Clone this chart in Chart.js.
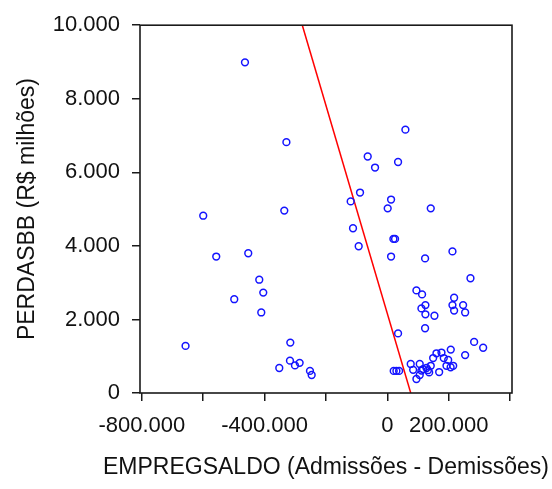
<!DOCTYPE html>
<html>
<head>
<meta charset="utf-8">
<script src="https://cdn.jsdelivr.net/npm/chart.js@4/dist/chart.umd.min.js"></script>
<style>
  html, body { margin: 0; padding: 0; background: #fff; }
  #wrap { width: 552px; height: 489px; }
</style>
</head>
<body>
<div id="wrap"><canvas id="c" width="552" height="489"></canvas></div>
<script>
// Saldo de emprego (admissões - demissões) por observação
const empregSaldo = [
  -464000, 58700, -329000, -64100, -40200, 34800, -89100, -119600, 12000, 1000,
  141300, -600000, -335900, -112000, 19600, 25000, -93500, -557600, -453300, 12000,
  122800, 212000, 270700, -417400, -404400, -498900, -410900, 94600, 113000, 123900,
  110900, 123900, 153300, 217400, 212000, 217400, 246700, 253300, 122800, 34800,
  -657600, -316300, -317400, -352200, -301100, -285900, -252200, -246700, 282600, 312000,
  253300, 206500, 20600, 29400, 38200, 76000, 105400, 83900, 94600, 110900,
  105400, 127300, 141300, 149100, 159900, 176200, 183700, 192500, 214400, 168700,
  136100, 198100, 206000, 116000, 132000
];
// Perdas (R$ milhões) correspondentes
const perdasBB = [
  8990, 7160, 6820, 6430, 6130, 6280, 5450, 5210, 5260, 5020,
  5020, 4820, 4960, 4480, 4190, 4190, 3990, 3710, 3800, 3710,
  3660, 3850, 3120, 3080, 2730, 2550, 2190, 2790, 2680, 2390,
  2300, 2140, 2100, 2590, 2390, 2240, 2390, 2190, 1760, 1620,
  1280, 1370, 880, 680, 750, 820, 600, 490, 1390, 1230,
  1030, 1180, 600, 600, 600, 790, 790, 630, 380, 610,
  490, 680, 740, 950, 1080, 1100, 950, 740, 740, 570,
  560, 900, 700, 650, 620
];
// Reta ajustada: extremos no topo e na base da área do gráfico
const retaX = [-277200, 76100];
const retaY = [10000, 0];

const xTicks = [-800000, -600000, -400000, -200000, 0, 200000, 400000];
const xTickLabels = ['-800.000', '', '-400.000', '', '0', '200.000', ''];
const yTicks = [0, 2000, 4000, 6000, 8000, 10000];
const yTickLabels = ['0', '2.000', '4.000', '6.000', '8.000', '10.000'];
const xTitle = 'EMPREGSALDO (Admissões - Demissões)';
const yTitle = 'PERDASBB (R$ milhões)';

const points = empregSaldo.map((x, i) => ({ x: x, y: perdasBB[i] }));
const reta = retaX.map((x, i) => ({ x: x, y: retaY[i] }));

const FONT = "'Liberation Sans', Arial, sans-serif";

// Moldura da área do gráfico e título do eixo X (sem compressão de largura)
const frame = {
  id: 'frame',
  afterDatasetsDraw(chart) {
    const a = chart.chartArea, ctx = chart.ctx;
    ctx.save();
    ctx.strokeStyle = '#1a1a1a';
    ctx.lineWidth = 1.6;
    ctx.strokeRect(a.left, a.top, a.right - a.left, a.bottom - a.top);
    ctx.restore();
  },
  afterDraw(chart) {
    const a = chart.chartArea, ctx = chart.ctx;
    ctx.save();
    ctx.fillStyle = '#111';
    ctx.font = '23px ' + FONT;
    ctx.textAlign = 'center';
    ctx.textBaseline = 'middle';
    ctx.fillText(xTitle, (a.left + a.right) / 2, chart.height - 21);
    ctx.restore();
  }
};

new Chart(document.getElementById('c'), {
  type: 'scatter',
  data: {
    datasets: [
      {
        data: points,
        pointStyle: 'circle',
        pointRadius: 3.4,
        pointBorderWidth: 1.5,
        pointBackgroundColor: 'rgba(0,0,0,0)',
        pointBorderColor: '#1414ff',
        showLine: false
      },
      {
        data: reta,
        showLine: true,
        borderColor: '#ff0000',
        borderWidth: 1.5,
        pointRadius: 0,
        fill: false
      }
    ]
  },
  plugins: [frame],
  options: {
    responsive: false,
    animation: false,
    devicePixelRatio: 1,
    layout: { padding: { top: 23, right: 40, left: 0, bottom: 0 } },
    plugins: { legend: { display: false }, tooltip: { enabled: false } },
    scales: {
      x: {
        type: 'linear',
        min: -806000,
        max: 406000,
        afterBuildTicks(s) { s.ticks = xTicks.map(v => ({ value: v })); },
        afterFit(s) { s.height = 96; },
        grid: { drawOnChartArea: false, drawTicks: true, tickLength: 8, color: '#1a1a1a', lineWidth: 1.5 },
        border: { display: false },
        ticks: {
          autoSkip: false,
          maxRotation: 0,
          padding: 12,
          color: '#111',
          font: { family: FONT, size: 22 },
          callback(v) { const i = xTicks.indexOf(v); return i >= 0 ? xTickLabels[i] : ''; }
        },
        title: { display: false }
      },
      y: {
        type: 'linear',
        min: 0,
        max: 10000,
        afterBuildTicks(s) { s.ticks = yTicks.map(v => ({ value: v })); },
        afterFit(s) { s.width = 140; },
        grid: { drawOnChartArea: false, drawTicks: true, tickLength: 8, color: '#1a1a1a', lineWidth: 1.5 },
        border: { display: false },
        ticks: {
          autoSkip: false,
          padding: 12,
          color: '#111',
          font: { family: FONT, size: 22 },
          callback(v) { const i = yTicks.indexOf(v); return i >= 0 ? yTickLabels[i] : ''; }
        },
        title: {
          display: true,
          text: yTitle,
          color: '#111',
          font: { family: FONT, size: 23 },
          padding: { top: 14, bottom: 0 }
        }
      }
    }
  }
});
</script>
</body>
</html>
